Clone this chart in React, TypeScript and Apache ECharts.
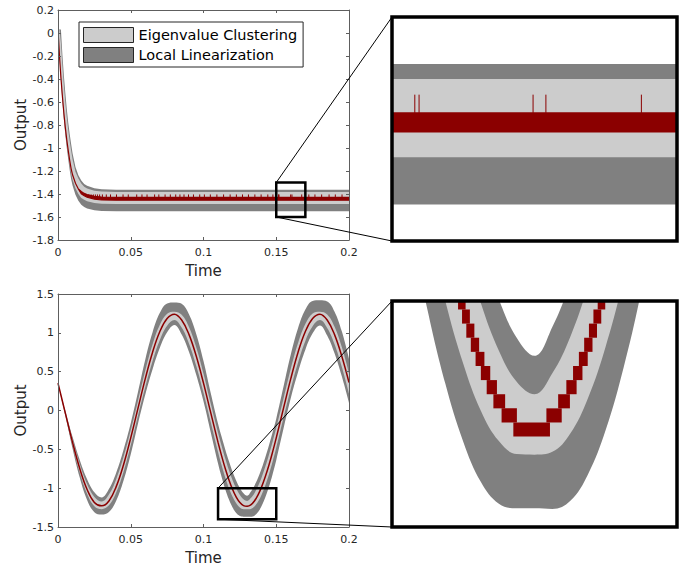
import React, { useEffect, useRef } from 'react';
import * as echarts from 'echarts';

// ---------- Top panel (step response) ----------
const topTime = [0, 0.001, 0.002, 0.003, 0.004, 0.005, 0.006, 0.007, 0.008, 0.009, 0.01, 0.012, 0.014, 0.016, 0.018, 0.02, 0.025, 0.03, 0.04, 0.06, 0.08, 0.1, 0.12, 0.14, 0.16, 0.18, 0.2];
const topRedHigh = [0.03, -0.196, -0.387, -0.548, -0.694, -0.819, -0.927, -1.019, -1.105, -1.179, -1.233, -1.307, -1.356, -1.378, -1.395, -1.405, -1.42, -1.426, -1.4285, -1.4285, -1.4285, -1.4285, -1.4285, -1.4285, -1.4285, -1.4285, -1.4285];
const topRedLow = [0.03, -0.196, -0.387, -0.548, -0.694, -0.819, -0.927, -1.019, -1.105, -1.179, -1.233, -1.307, -1.356, -1.398, -1.415, -1.428, -1.444, -1.452, -1.454, -1.454, -1.454, -1.454, -1.454, -1.454, -1.454, -1.454, -1.454];
const topEcHigh = [0.03, 0.03, -0.084, -0.283, -0.452, -0.6, -0.729, -0.841, -0.936, -1.021, -1.098, -1.206, -1.266, -1.309, -1.337, -1.353, -1.372, -1.379, -1.383, -1.383, -1.383, -1.383, -1.383, -1.383, -1.383, -1.383, -1.383];
const topEcLow = [0.03, -0.202, -0.4, -0.566, -0.717, -0.846, -0.958, -1.053, -1.141, -1.218, -1.274, -1.35, -1.401, -1.434, -1.451, -1.464, -1.479, -1.485, -1.488, -1.488, -1.488, -1.488, -1.488, -1.488, -1.488, -1.488, -1.488];
const topLlHigh = [0.03, 0.03, 0.03, -0.185, -0.366, -0.518, -0.657, -0.775, -0.877, -0.964, -1.045, -1.166, -1.236, -1.283, -1.313, -1.329, -1.35, -1.358, -1.363, -1.363, -1.363, -1.363, -1.363, -1.363, -1.363, -1.363, -1.363];
const topLlLow = [0.03, -0.211, -0.416, -0.59, -0.747, -0.881, -0.997, -1.096, -1.189, -1.269, -1.327, -1.406, -1.459, -1.493, -1.512, -1.525, -1.541, -1.547, -1.551, -1.551, -1.551, -1.551, -1.551, -1.551, -1.551, -1.551, -1.551];
const topSpikeTime = [0.0212, 0.0228, 0.0243, 0.0257, 0.0271, 0.0286, 0.0305, 0.0332, 0.0361, 0.0402, 0.0447, 0.0483, 0.0541, 0.0577, 0.0612, 0.0664, 0.0693, 0.0736, 0.0772, 0.0809, 0.0838, 0.0866, 0.0897, 0.0931, 0.0974, 0.1006, 0.1047, 0.1092, 0.1138, 0.1183, 0.1226, 0.1268, 0.1309, 0.1353, 0.1396, 0.1442, 0.1477, 0.1516, 0.1519, 0.1599, 0.1608, 0.1675, 0.1724, 0.1766, 0.1812, 0.1863, 0.1906, 0.1952];
const topSpikeRange = [-1.4285, -1.404];

// ---------- Bottom panel (sinusoidal response) ----------
const botTime = [0, 0.005, 0.01, 0.015, 0.02, 0.025, 0.03, 0.035, 0.04, 0.045, 0.05, 0.055, 0.06, 0.065, 0.07, 0.075, 0.08, 0.085, 0.09, 0.095, 0.1, 0.105, 0.11, 0.1125, 0.115, 0.1175, 0.12, 0.1225, 0.125, 0.1275, 0.13, 0.1325, 0.135, 0.1375, 0.14, 0.1425, 0.145, 0.1475, 0.15, 0.155, 0.16, 0.165, 0.17, 0.175, 0.18, 0.185, 0.19, 0.195, 0.2];
const botRed = [0.352, -0.031, -0.411, -0.751, -1.017, -1.184, -1.228, -1.165, -0.98, -0.701, -0.352, 0.031, 0.411, 0.751, 1.017, 1.184, 1.24, 1.165, 0.98, 0.701, 0.352, -0.031, -0.411, -0.588, -0.751, -0.895, -1.017, -1.114, -1.184, -1.224, -1.232, -1.215, -1.165, -1.086, -0.98, -0.85, -0.701, -0.533, -0.352, 0.031, 0.411, 0.751, 1.017, 1.184, 1.24, 1.165, 0.98, 0.701, 0.36];
const botLlHigh = [0.352, -0.002, -0.339, -0.64, -0.884, -1.052, -1.12, -1.012, -0.8, -0.508, -0.164, 0.24, 0.658, 1.008, 1.257, 1.379, 1.391, 1.373, 1.239, 0.986, 0.636, 0.223, -0.17, -0.341, -0.504, -0.654, -0.788, -0.904, -0.997, -1.065, -1.097, -1.046, -0.968, -0.867, -0.744, -0.601, -0.447, -0.279, -0.105, 0.309, 0.721, 1.062, 1.3, 1.411, 1.418, 1.405, 1.276, 1.022, 0.667];
const botLlLow = [0.352, -0.062, -0.488, -0.867, -1.151, -1.31, -1.34, -1.308, -1.161, -0.905, -0.563, -0.167, 0.205, 0.532, 0.808, 1.008, 1.102, 0.978, 0.756, 0.461, 0.118, -0.284, -0.684, -0.861, -1.017, -1.147, -1.249, -1.321, -1.359, -1.367, -1.367, -1.368, -1.354, -1.307, -1.228, -1.118, -0.982, -0.82, -0.639, -0.233, 0.16, 0.496, 0.783, 0.994, 1.096, 0.966, 0.74, 0.443, 0.101];
const botEcHigh = [0.352, -0.016, -0.373, -0.692, -0.946, -1.113, -1.173, -1.083, -0.885, -0.6, -0.254, 0.127, 0.515, 0.852, 1.103, 1.246, 1.272, 1.232, 1.075, 0.814, 0.473, 0.086, -0.285, -0.459, -0.622, -0.77, -0.898, -1.005, -1.088, -1.143, -1.165, -1.128, -1.064, -0.973, -0.858, -0.721, -0.569, -0.401, -0.223, 0.156, 0.539, 0.869, 1.113, 1.249, 1.272, 1.236, 1.082, 0.822, 0.482];
const botEcLow = [0.352, -0.046, -0.445, -0.799, -1.071, -1.232, -1.27, -1.221, -1.056, -0.791, -0.448, -0.063, 0.303, 0.636, 0.908, 1.092, 1.166, 1.068, 0.864, 0.576, 0.23, -0.15, -0.534, -0.708, -0.865, -1.001, -1.111, -1.195, -1.248, -1.271, -1.272, -1.267, -1.235, -1.172, -1.08, -0.961, -0.82, -0.658, -0.48, -0.093, 0.28, 0.618, 0.896, 1.086, 1.164, 1.062, 0.856, 0.567, 0.221];
// quantised output blocks seen in the zoomed view
const zoomRedStart = [0.12703, 0.12538, 0.13167, 0.12423, 0.13332, 0.12329, 0.13447, 0.12247, 0.13541, 0.12173, 0.13623, 0.12106, 0.13697, 0.12043, 0.13764, 0.11983, 0.13827, 0.11927, 0.13887];
const zoomRedEnd = [0.13217, 0.12753, 0.13382, 0.12588, 0.13497, 0.12473, 0.13591, 0.12379, 0.13673, 0.12297, 0.13747, 0.12223, 0.13814, 0.12156, 0.13877, 0.12093, 0.13937, 0.12033, 0.13993];
const zoomRedLow = [-1.24, -1.215, -1.215, -1.19, -1.19, -1.165, -1.165, -1.14, -1.14, -1.115, -1.115, -1.09, -1.09, -1.065, -1.065, -1.04, -1.04, -1.015, -1.015];
const zoomRedHigh = [-1.215, -1.19, -1.19, -1.165, -1.165, -1.14, -1.14, -1.115, -1.115, -1.09, -1.09, -1.065, -1.065, -1.04, -1.04, -1.015, -1.015, -0.99, -0.99];

// axes / zoom windows
const timeTicks = [0, 0.2, 0.05];
const topYTicks = [-1.8, 0.2, 0.2];
const botYTicks = [-1.5, 1.5, 0.5];
const topZoomX = [0.15, 0.17];
const topZoomY = [-1.6, -1.3];
const botZoomX = [0.11, 0.15];
const botZoomY = [-1.4, -1.0];

const FONT = '"DejaVu Sans", "Liberation Sans", sans-serif';
const RED = '#8b0000';
const LIGHT = '#cccccc';
const DARK = '#808080';
const AXIS = '#5e5e5e';
const TXT = '#262626';
const EC_NAME = 'Eigenvalue Clustering';
const LL_NAME = 'Local Linearization';

function area(name: string, time: number[], vals: number[], color: string, ax: number, smooth: any) {
  return {
    type: 'line', name, xAxisIndex: ax, yAxisIndex: ax,
    data: time.map((t, i) => [t, vals[i]]),
    symbol: 'none', smooth, silent: true, z: 2,
    lineStyle: { width: 0, opacity: 0 },
    itemStyle: { color },
    areaStyle: { color, opacity: 1, origin: 'start' },
  };
}

function bands(time: number[], llHi: number[], ecHi: number[], ecLo: number[], llLo: number[], ax: number, smooth: any) {
  return [
    area(LL_NAME, time, llHi, DARK, ax, smooth),
    area(EC_NAME, time, ecHi, LIGHT, ax, smooth),
    area('ec-lower-' + ax, time, ecLo, DARK, ax, smooth),
    area('ll-lower-' + ax, time, llLo, '#ffffff', ax, smooth),
  ];
}

function redBand(ax: number) {
  return {
    type: 'custom', name: 'out-band-' + ax, xAxisIndex: ax, yAxisIndex: ax, clip: true, silent: true, z: 3,
    data: topTime.map((t, i) => [t, topRedLow[i], topRedHigh[i]]),
    encode: { x: 0, y: [1, 2] },
    renderItem: (params: any, api: any) => {
      if (params.dataIndexInside !== 0) return null;
      const n = params.dataInsideLength;
      const pts: number[][] = [];
      for (let i = 0; i < n; i++) pts.push(api.coord([api.value(0, i), api.value(2, i)]));
      for (let i = n - 1; i >= 0; i--) pts.push(api.coord([api.value(0, i), api.value(1, i)]));
      return { type: 'polygon', shape: { points: pts }, style: { fill: RED, stroke: RED, lineWidth: 1.2 } };
    },
  };
}

function spikes(ax: number) {
  return {
    type: 'custom', name: 'spikes-' + ax, xAxisIndex: ax, yAxisIndex: ax, clip: true, silent: true, z: 3,
    data: topSpikeTime.map((t) => [t, topSpikeRange[0], topSpikeRange[1]]),
    encode: { x: 0, y: [1, 2] },
    renderItem: (params: any, api: any) => {
      const a = api.coord([api.value(0), api.value(1)]);
      const b = api.coord([api.value(0), api.value(2)]);
      return { type: 'line', shape: { x1: a[0], y1: a[1], x2: b[0], y2: b[1] }, style: { stroke: RED, lineWidth: 1 } };
    },
  };
}

function mainX(grid: number, pos: string, name?: string) {
  return {
    type: 'value', gridIndex: grid, position: pos, min: timeTicks[0], max: timeTicks[1], interval: timeTicks[2], z: 10,
    name, nameLocation: 'middle', nameGap: 23,
    nameTextStyle: { fontSize: 15, color: TXT, fontFamily: FONT },
    axisLine: { show: true, onZero: false, lineStyle: { color: AXIS, width: 1 } },
    axisTick: { show: true, inside: true, length: 3, lineStyle: { color: AXIS } },
    axisLabel: { show: pos === 'bottom', fontSize: 11, color: TXT, fontFamily: FONT, margin: 7 },
    splitLine: { show: false },
  };
}

function mainY(grid: number, pos: string, ticks: number[], name?: string) {
  return {
    type: 'value', gridIndex: grid, position: pos, min: ticks[0], max: ticks[1], interval: ticks[2], z: 10,
    name, nameLocation: 'middle', nameGap: 29, nameRotate: 90,
    nameTextStyle: { fontSize: 15, color: TXT, fontFamily: FONT },
    axisLine: { show: true, onZero: false, lineStyle: { color: AXIS, width: 1 } },
    axisTick: { show: true, inside: true, length: 3, lineStyle: { color: AXIS } },
    axisLabel: { show: pos === 'left', fontSize: 11, color: TXT, fontFamily: FONT, margin: 4 },
    splitLine: { show: false },
  };
}

function insetAxis(grid: number, range: number[]) {
  return { type: 'value', gridIndex: grid, min: range[0], max: range[1], show: false };
}

export default function App() {
  const ref = useRef<HTMLDivElement>(null);
  useEffect(() => {
    const chart = echarts.init(ref.current as HTMLDivElement, null, { renderer: 'svg' });
    const option: any = {
      animation: false,
      backgroundColor: '#ffffff',
      grid: [
        { left: 58, top: 10, width: 291, height: 230 },
        { left: 392, top: 17, width: 285, height: 224 },
        { left: 58, top: 294, width: 291, height: 233 },
        { left: 392, top: 301, width: 285, height: 226 },
      ],
      xAxis: [
        mainX(0, 'bottom', 'Time'),
        mainX(0, 'top'),
        insetAxis(1, topZoomX),
        mainX(2, 'bottom', 'Time'),
        mainX(2, 'top'),
        insetAxis(3, botZoomX),
      ],
      yAxis: [
        mainY(0, 'left', topYTicks, 'Output'),
        mainY(0, 'right', topYTicks),
        insetAxis(1, topZoomY),
        mainY(2, 'left', botYTicks, 'Output'),
        mainY(2, 'right', botYTicks),
        insetAxis(3, botZoomY),
      ],
      legend: {
        show: true, orient: 'vertical', left: 79, top: 22, padding: [5, 6, 4, 4], itemGap: 4,
        itemWidth: 50, itemHeight: 15, icon: 'rect', selectedMode: false, z: 20,
        backgroundColor: '#ffffff', borderColor: TXT, borderWidth: 1,
        textStyle: { fontSize: 14.5, color: '#000000', fontFamily: FONT, lineHeight: 15 },
        data: [
          { name: EC_NAME, icon: 'rect', itemStyle: { color: LIGHT, borderColor: TXT, borderWidth: 1 } },
          { name: LL_NAME, icon: 'rect', itemStyle: { color: DARK, borderColor: TXT, borderWidth: 1 } },
        ],
      },
      series: [
        ...bands(topTime, topLlHigh, topEcHigh, topEcLow, topLlLow, 0, false),
        redBand(0),
        spikes(0),
        ...bands(topTime, topLlHigh, topEcHigh, topEcLow, topLlLow, 2, false),
        redBand(2),
        spikes(2),
        ...bands(botTime, botLlHigh, botEcHigh, botEcLow, botLlLow, 3, 0.4),
        {
          type: 'line', name: 'out-bottom', xAxisIndex: 3, yAxisIndex: 3, symbol: 'none', smooth: 0.4, silent: true, z: 3,
          data: botTime.map((t, i) => [t, botRed[i]]),
          lineStyle: { color: RED, width: 1.5 },
        },
        ...bands(botTime, botLlHigh, botEcHigh, botEcLow, botLlLow, 5, 0.4),
        {
          type: 'custom', name: 'out-zoom', xAxisIndex: 5, yAxisIndex: 5, clip: true, silent: true, z: 3,
          data: zoomRedStart.map((s, i) => [s, zoomRedEnd[i], zoomRedLow[i], zoomRedHigh[i]]),
          encode: { x: [0, 1], y: [2, 3] },
          renderItem: (params: any, api: any) => {
            const p0 = api.coord([api.value(0), api.value(3)]);
            const p1 = api.coord([api.value(1), api.value(2)]);
            return { type: 'rect', shape: { x: p0[0], y: p0[1], width: p1[0] - p0[0], height: p1[1] - p0[1] }, style: { fill: RED } };
          },
        },
      ],
    };
    chart.setOption(option);

    const P = (ax: number, p: number[]) => chart.convertToPixel({ xAxisIndex: ax, yAxisIndex: ax } as any, p) as unknown as number[];
    const els: any[] = [];
    const rect = (a: number[], c: number[], w: number) => ({
      type: 'rect', z: 50, silent: true,
      shape: { x: a[0], y: a[1], width: c[0] - a[0], height: c[1] - a[1] },
      style: { fill: 'none', stroke: '#000000', lineWidth: w },
    });
    const line = (a: number[], b: number[]) => ({
      type: 'line', z: 50, silent: true,
      shape: { x1: a[0], y1: a[1], x2: b[0], y2: b[1] },
      style: { stroke: '#000000', lineWidth: 1 },
    });
    [
      { main: 0, inset: 2, xr: topZoomX, yr: topZoomY },
      { main: 3, inset: 5, xr: botZoomX, yr: botZoomY },
    ].forEach((b) => {
      const a = P(b.main, [b.xr[0], b.yr[1]]);
      const c = P(b.main, [b.xr[1], b.yr[0]]);
      const ia = P(b.inset, [b.xr[0], b.yr[1]]);
      const ic = P(b.inset, [b.xr[1], b.yr[0]]);
      els.push(line(a, ia));
      els.push(line([a[0], c[1]], [ia[0], ic[1]]));
      els.push(rect(a, c, 2.5));
      els.push(rect(ia, ic, 3.5));
    });
    chart.setOption({ graphic: els });

    return () => chart.dispose();
  }, []);
  return <div ref={ref} style={{ position: 'fixed', left: 0, top: 0, width: 686, height: 566, background: '#ffffff' }} />;
}
